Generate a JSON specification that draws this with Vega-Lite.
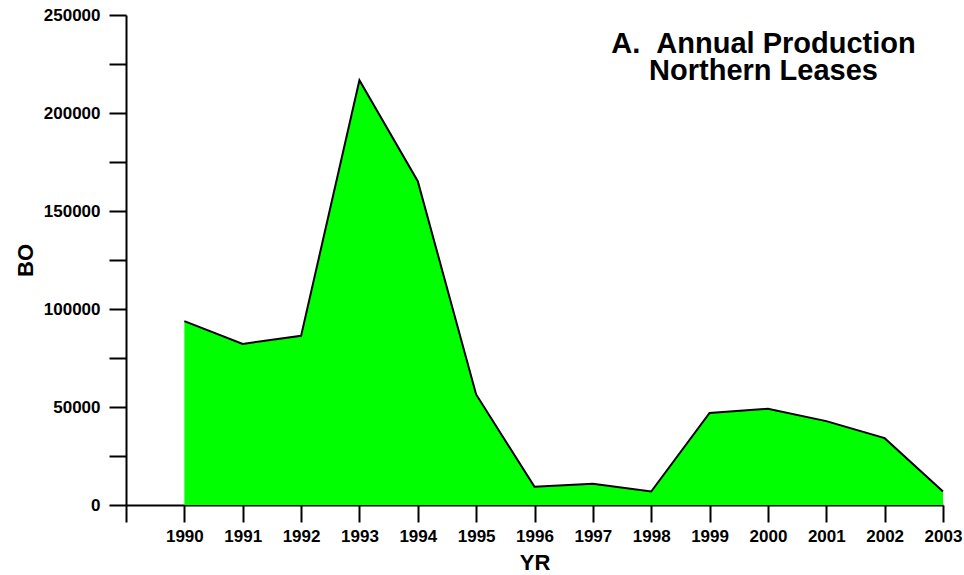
{
  "$schema": "https://vega.github.io/schema/vega-lite/v6.json",
  "width": 817,
  "height": 490,
  "autosize": "none",
  "padding": {"left": 126, "top": 15, "right": 21, "bottom": 70},
  "background": "white",
  "title": {
    "text": ["A.\u00a0\u00a0Annual Production", "Northern Leases"],
    "anchor": "middle",
    "frame": "group",
    "align": "center",
    "baseline": "top",
    "dx": 229,
    "dy": 62,
    "font": "Liberation Sans",
    "fontSize": 29,
    "fontWeight": "bold",
    "lineHeight": 27,
    "color": "black",
    "offset": -18
  },
  "data": {
    "values": [
      {"YR": 1990, "BO": 93800},
      {"YR": 1991, "BO": 82200},
      {"YR": 1992, "BO": 86300},
      {"YR": 1993, "BO": 216700},
      {"YR": 1994, "BO": 165200},
      {"YR": 1995, "BO": 56400},
      {"YR": 1996, "BO": 9300},
      {"YR": 1997, "BO": 10800},
      {"YR": 1998, "BO": 6900},
      {"YR": 1999, "BO": 47000},
      {"YR": 2000, "BO": 49100},
      {"YR": 2001, "BO": 42800},
      {"YR": 2002, "BO": 34100},
      {"YR": 2003, "BO": 6900}
    ]
  },
  "mark": {
    "type": "area",
    "color": "#00FF00",
    "opacity": 1,
    "line": {"color": "black", "strokeWidth": 2}
  },
  "encoding": {
    "x": {
      "field": "YR",
      "type": "quantitative",
      "scale": {"domain": [1989, 2003], "nice": false, "zero": false},
      "axis": {
        "values": [1989, 1990, 1991, 1992, 1993, 1994, 1995, 1996, 1997, 1998, 1999, 2000, 2001, 2002, 2003],
        "format": "d",
        "labelExpr": "datum.value == 1989 ? '' : datum.label",
        "grid": false,
        "domainColor": "black",
        "domainWidth": 2,
        "tickColor": "black",
        "tickWidth": 2,
        "tickSize": 17,
        "labelFont": "Liberation Sans",
        "labelFontSize": 17,
        "labelFontWeight": "bold",
        "labelColor": "black",
        "labelPadding": 6,
        "labelFlush": false,
        "labelOverlap": false,
        "title": "YR",
        "titleFont": "Liberation Sans",
        "titleFontSize": 22,
        "titleFontWeight": "bold",
        "titleColor": "black",
        "titlePadding": 8
      }
    },
    "y": {
      "field": "BO",
      "type": "quantitative",
      "scale": {"domain": [0, 250000], "nice": false},
      "axis": {
        "values": [0, 25000, 50000, 75000, 100000, 125000, 150000, 175000, 200000, 225000, 250000],
        "labelExpr": "datum.value % 50000 == 0 ? format(datum.value, 'd') : ''",
        "grid": false,
        "domainColor": "black",
        "domainWidth": 2,
        "tickColor": "black",
        "tickWidth": 2,
        "tickSize": 17,
        "labelFont": "Liberation Sans",
        "labelFontSize": 17,
        "labelFontWeight": "bold",
        "labelColor": "black",
        "labelPadding": 9,
        "labelFlush": false,
        "labelOverlap": false,
        "title": "BO",
        "titleFont": "Liberation Sans",
        "titleFontSize": 22,
        "titleFontWeight": "bold",
        "titleColor": "black",
        "titlePadding": 6
      }
    }
  },
  "config": {"view": {"stroke": null}}
}
